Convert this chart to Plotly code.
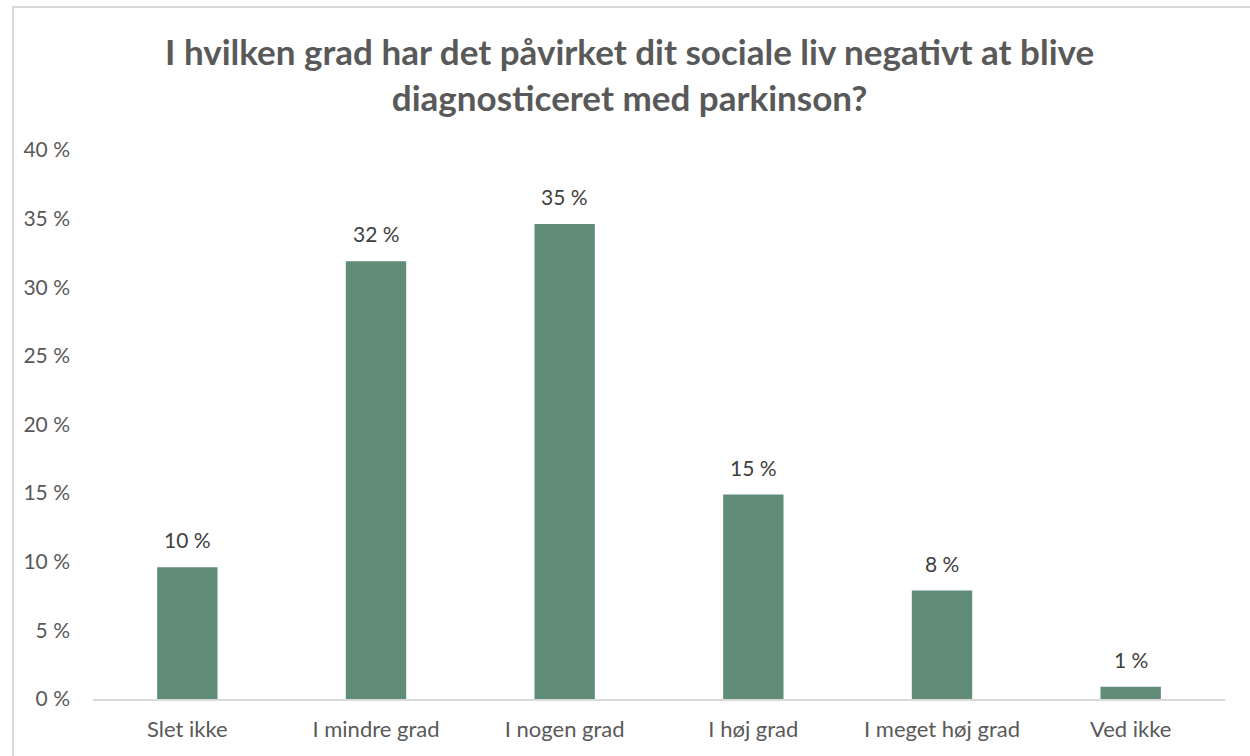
import plotly.graph_objects as go

categories = ["Slet ikke", "I mindre grad", "I nogen grad", "I høj grad", "I meget høj grad", "Ved ikke"]
shares = [9.6, 31.9, 34.6, 14.9, 7.9, 0.9]  # percent of respondents
y_ticks = [0, 5, 10, 15, 20, 25, 30, 35, 40]
y_tick_labels = [f"{t} %" for t in y_ticks]

title_text = ("I hvilken grad har det påvirket dit sociale liv negativt at blive<br>"
              "diagnosticeret med parkinson?")

bar_color = "#608C78"
text_color = "#595959"
font_family = "Lato, 'Open Sans', sans-serif"

fig = go.Figure(
    go.Bar(
        x=categories,
        y=shares,
        marker=dict(color=bar_color, line=dict(width=0)),
        hoverinfo="skip",
    )
)

# value labels above each bar, rounded to whole percent
for cat, val in zip(categories, shares):
    fig.add_annotation(
        x=cat, y=val, text=f"{val:.0f} %", showarrow=False,
        xref="x", yref="y", yanchor="bottom", yshift=13,
        font=dict(family=font_family, size=21, color="#404040"),
    )

# chart title, centred on the page
fig.add_annotation(
    text=title_text, xref="paper", yref="paper", x=0.4735, y=1.138,
    xanchor="center", yanchor="middle", showarrow=False,
    font=dict(family=font_family, size=35, color=text_color, weight="bold"),
)

# light frame around the chart (left and top edges inside the page)
fig.add_shape(
    type="path", xref="paper", yref="paper",
    path="M -0.0707,-0.2 L -0.0707,1.2605 L 1.2,1.2605",
    line=dict(color="#D9D9D9", width=2), layer="above",
)

fig.update_layout(
    width=1250, height=756,
    margin=dict(l=93, r=25, t=150, b=57),
    paper_bgcolor="white", plot_bgcolor="white",
    bargap=0.68,
    showlegend=False,
    font=dict(family=font_family, size=21, color=text_color),
    xaxis=dict(
        showline=True, linecolor="#D9D9D9", linewidth=2,
        showgrid=False, ticks="", tickfont=dict(size=22, color=text_color),
        ticklabelstandoff=10,
    ),
    yaxis=dict(
        range=[0, 40], tickvals=y_ticks, ticktext=y_tick_labels,
        showgrid=False, zeroline=False, showline=False, ticks="",
        tickfont=dict(size=21, color=text_color),
        ticklabelstandoff=22,
    ),
)

fig.write_html("out.html")
